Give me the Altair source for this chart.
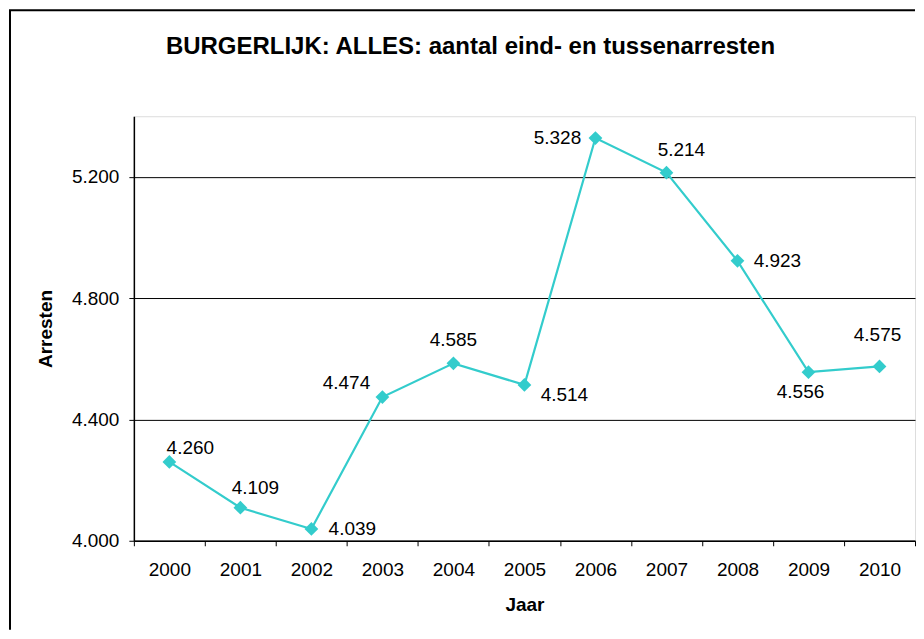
import altair as alt
import pandas as pd

years = [2000, 2001, 2002, 2003, 2004, 2005, 2006, 2007, 2008, 2009, 2010]
arresten = [4260, 4109, 4039, 4474, 4585, 4514, 5328, 5214, 4923, 4556, 4575]
y_ticks = [4000, 4400, 4800, 5200]

title_text = "BURGERLIJK: ALLES: aantal eind- en tussenarresten"
x_title = "Jaar"
y_title = "Arresten"

# label placement (relative offsets of the value labels, in px)
label_offsets = {
    2000: (21, -14), 2001: (15, -20), 2002: (41, 0), 2003: (-36, -14),
    2004: (0, -23), 2005: (40, 10), 2006: (-38, 0), 2007: (15, -23),
    2008: (40, 0), 2009: (-8, 20), 2010: (-2, -31),
}

df = pd.DataFrame({"year": years, "value": arresten})
df["label"] = df["value"].map(lambda v: f"{v:,}".replace(",", "."))

FONT = "Liberation Sans"
COLOR = "#33CCCC"
W, H = 782, 425

x_enc = alt.X(
    "year:O",
    bandPosition=0.5,
    scale=alt.Scale(type="band", paddingInner=0, paddingOuter=0),
    axis=alt.Axis(
        title=x_title, labelAngle=0, tickBand="extent", grid=False,
        tickSize=5, labelPadding=15, titlePadding=16,
        labelFontSize=19, titleFontSize=19, labelFont=FONT, titleFont=FONT,
        titleFontWeight="bold", labelColor="black", titleColor="black",
        domainColor="black", tickColor="black", domainWidth=1.5, tickWidth=1,
    ),
)
y_enc = alt.Y(
    "value:Q",
    scale=alt.Scale(domain=[4000, 5400], nice=False, zero=False),
    axis=alt.Axis(
        title=y_title, values=y_ticks,
        labelExpr="replace(format(datum.value, ','), ',', '.')",
        tickSize=5, labelPadding=10, titlePadding=16,
        labelFontSize=19, titleFontSize=19, labelFont=FONT, titleFont=FONT,
        titleFontWeight="bold", labelColor="black", titleColor="black",
        domainColor="black", tickColor="black", domainWidth=1.5, tickWidth=1,
        gridColor="black", gridWidth=1, gridOpacity=1,
    ),
)

base = alt.Chart(df)
line = base.mark_line(color=COLOR, strokeWidth=2.2).encode(x=x_enc, y=y_enc)
points = base.mark_point(shape="diamond", filled=True, color=COLOR, size=190, opacity=1).encode(
    x=x_enc, y=y_enc
)

texts = []
for yr, (dx, dy) in label_offsets.items():
    texts.append(
        base.transform_filter(alt.datum.year == yr)
        .mark_text(font=FONT, fontSize=19, color="black", dx=dx, dy=dy,
                   align="center", baseline="middle")
        .encode(x=x_enc, y=y_enc, text="label:N")
    )

frame_df = pd.DataFrame({"a": [0]})
frame_left = alt.Chart(frame_df).mark_rule(color="black", strokeWidth=2).encode(
    x=alt.value(-124), y=alt.value(-106), y2=alt.value(514)
)
frame_top = alt.Chart(frame_df).mark_rule(color="black", strokeWidth=2).encode(
    x=alt.value(-125), x2=alt.value(782), y=alt.value(-106)
)
title = alt.Chart(frame_df).mark_text(
    font=FONT, fontSize=24, fontWeight="bold", color="black",
    align="center", baseline="alphabetic",
).encode(x=alt.value(337), y=alt.value(-62), text=alt.value(title_text))

chart = alt.layer(frame_left, frame_top, title, line, points, *texts).properties(
    width=W, height=H,
    padding={"left": 0, "top": 1, "right": 0, "bottom": 0},
).configure_view(stroke="#808080", strokeWidth=2).configure(background="white")

chart.save("out.html", embed_options={"renderer": "svg", "actions": False})
